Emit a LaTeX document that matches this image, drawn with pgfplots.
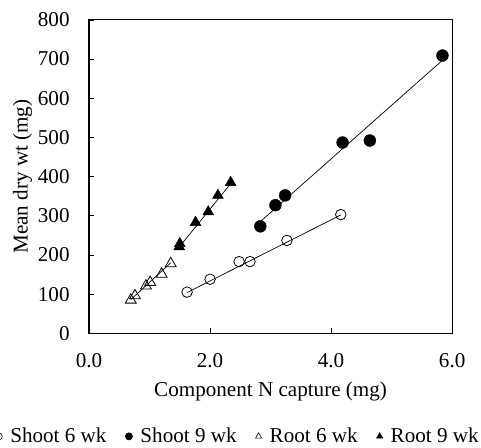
\documentclass[border=0pt]{standalone}
\usepackage{fontspec}
\setmainfont{Liberation Serif}
\usepackage{pgfplots}
\pgfplotsset{compat=1.18}
\begin{document}
\newcommand{\bigf}{\fontsize{21.3}{25}\selectfont}
\begin{tikzpicture}[x=1bp,y=1bp]
\begin{axis}[
  at={(0bp,0bp)}, anchor=south west,
  scale only axis, width=365bp, height=315bp,
  xmin=0, xmax=6, ymin=0, ymax=800,
  xtick={0,2,4,6}, ytick={0,100,...,800},
  tick align=inside, tick pos=left,
  major tick length=5bp,
  axis line style={line width=1.1bp},
  every tick/.style={black, line width=0.8bp},
  /pgf/number format/assume math mode=true,
  x tick label style={/pgf/number format/fixed, /pgf/number format/fixed zerofill, /pgf/number format/precision=1, yshift=-17bp},
  y tick label style={/pgf/number format/fixed, /pgf/number format/precision=0, xshift=-16bp},
  tick label style={font=\bigf},
  xlabel={Component N capture (mg)},
  ylabel={Mean dry wt (mg)},
  label style={font=\bigf},
  xlabel style={at={(axis description cs:0.5,-0.185)}, anchor=center},
  ylabel style={at={(axis description cs:-0.183,0.5)}, anchor=center},
  legend columns=4,
  legend style={draw=none, fill=none, font=\bigf, inner sep=1bp, at={(axis description cs:0.41,-0.329)}, anchor=center,
    /tikz/every even column/.append style={column sep=17bp},
    /tikz/every odd column/.append style={column sep=6bp}},
  legend image code/.code={\draw[#1, mark size=3.6bp, line width=0.6bp] plot coordinates {(0bp,0bp)};},
  clip=false,
]
% trend lines
\addplot[black, line width=0.7bp, forget plot] coordinates {(1.62,104) (4.16,302)};
\addplot[black, line width=0.7bp, forget plot] coordinates {(2.83,285) (5.84,697)};
\addplot[black, line width=0.7bp, forget plot] coordinates {(0.69,86) (1.35,180)};
\addplot[black, line width=0.7bp, forget plot] coordinates {(1.49,220) (2.34,382)};
% Shoot 6 wk
\addplot[only marks, mark=o, mark size=5.3bp, black, line width=0.8bp, mark options={fill=white}] coordinates {
(1.62,105) (2.00,138) (2.48,183) (2.66,183) (3.27,237) (4.16,303)};
% Shoot 9 wk
\addplot[only marks, mark=*, mark size=6bp, black] coordinates {
(2.83,273) (3.08,327) (3.24,352) (4.19,487) (4.64,492) (5.84,709)};
% Root 6 wk
\addplot[only marks, mark=triangle, mark size=6.3bp, black, line width=0.8bp, mark options={fill=white}] coordinates {
(0.69,85) (0.76,96) (0.94,121) (1.01,130) (1.20,151) (1.35,178)};
% Root 9 wk
\addplot[only marks, mark=triangle*, mark size=6.3bp, black] coordinates {
(1.49,221) (1.50,229) (1.76,283) (1.97,310) (2.13,352) (2.34,385)};
\legend{Shoot 6 wk, Shoot 9 wk, Root 6 wk, Root 9 wk}
\end{axis}
\pgfresetboundingbox
\path (-87bp,-115bp) rectangle (394bp,335bp);
\end{tikzpicture}
\end{document}
